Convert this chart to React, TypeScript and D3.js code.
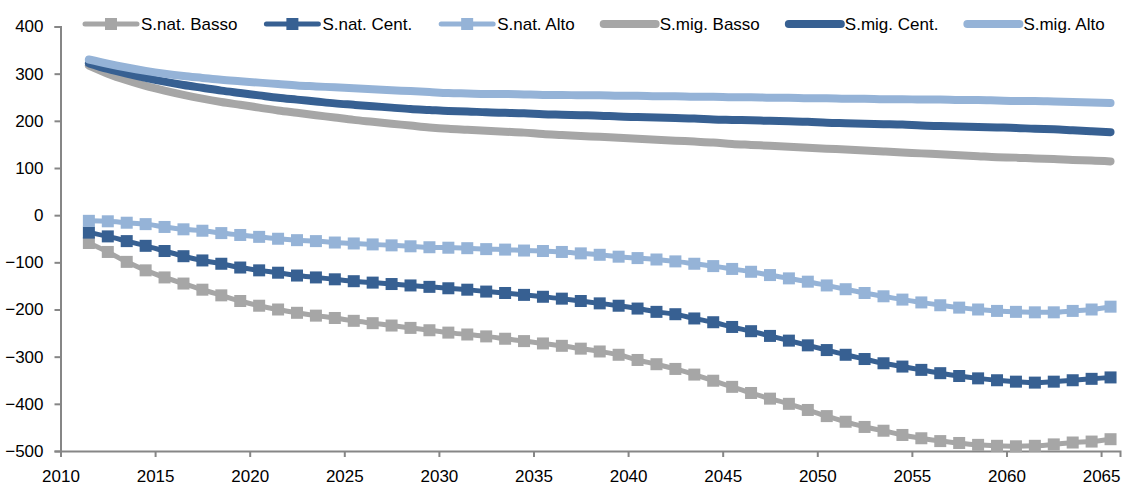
import React, { useEffect, useRef } from 'react';
import * as d3 from 'd3';

// anni 2011-2065
const years = d3.range(2011, 2066);

const natBasso = [
  -59, -78, -99, -117, -132, -145, -158, -170, -182, -192,
  -200, -207, -213, -218, -224, -229, -234, -239, -244, -249,
  -253, -257, -262, -267, -272, -277, -283, -289, -296, -307,
  -316, -326, -338, -351, -364, -377, -389, -400, -413, -426,
  -438, -449, -457, -466, -473, -479, -483, -487, -489, -490,
  -489, -486, -482, -480, -475,
];
const natCent = [
  -37, -45, -55, -65, -76, -87, -96, -103, -111, -117,
  -122, -128, -132, -136, -140, -143, -146, -149, -152, -155,
  -158, -162, -165, -169, -173, -177, -182, -187, -192, -198,
  -205, -210, -219, -227, -237, -246, -256, -266, -276, -286,
  -296, -305, -314, -321, -328, -335, -341, -346, -350, -353,
  -355, -353, -350, -347, -344,
];
const natAlto = [
  -12, -13, -16, -19, -25, -30, -33, -38, -42, -46,
  -50, -53, -55, -58, -60, -62, -64, -66, -68, -69,
  -70, -72, -73, -75, -76, -78, -81, -84, -88, -91,
  -94, -98, -103, -108, -114, -120, -127, -134, -141, -149,
  -157, -165, -172, -179, -185, -191, -196, -200, -203, -205,
  -206, -206, -203, -200, -194,
];
const migBasso = [
  317, 300, 286, 274, 264, 255, 247, 240, 234, 228,
  222, 217, 212, 207, 202, 198, 194, 190, 186, 183,
  181, 179, 177, 175, 172, 170, 168, 166, 164, 162,
  160, 158, 156, 154, 151, 149, 147, 145, 143, 141,
  139, 137, 135, 133, 131, 129, 127, 125, 123, 122,
  120, 119, 117, 116, 114,
];
const migCent = [
  322, 310, 300, 291, 283, 276, 270, 264, 259, 254,
  249, 245, 241, 237, 234, 231, 228, 225, 223, 221,
  220, 218, 217, 216, 214, 213, 212, 211, 209, 208,
  207, 206, 205, 203, 202, 201, 200, 199, 198, 196,
  195, 194, 193, 192, 190, 189, 188, 187, 186, 185,
  183, 182, 180, 178, 176,
];
const migAlto = [
  330, 321, 313, 306, 300, 295, 291, 287, 284, 281,
  278, 275, 273, 271, 269, 267, 265, 263, 261, 259,
  258, 257, 257, 256, 255, 255, 254, 254, 253, 253,
  252, 252, 251, 251, 250, 250, 249, 249, 248, 248,
  247, 247, 246, 246, 245, 245, 244, 244, 243, 242,
  242, 241, 240, 239, 238,
];

const xTicks = d3.range(2010, 2066, 5);
const yTicks = d3.range(-500, 401, 100);

const series = [
  { label: 'S.nat. Basso', values: natBasso, color: '#a6a6a6', marker: true },
  { label: 'S.nat. Cent.', values: natCent, color: '#376092', marker: true },
  { label: 'S.nat. Alto', values: natAlto, color: '#95b3d7', marker: true },
  { label: 'S.mig. Basso', values: migBasso, color: '#a6a6a6', marker: false },
  { label: 'S.mig. Cent.', values: migCent, color: '#376092', marker: false },
  { label: 'S.mig. Alto', values: migAlto, color: '#95b3d7', marker: false },
];

const FONT = '"Liberation Sans", Arial, sans-serif';

export default function App() {
  const svgRef = useRef<SVGSVGElement>(null);
  const width = 1143;
  const height = 486;

  useEffect(() => {
    if (!svgRef.current) return;
    const svg = d3.select(svgRef.current);
    svg.selectAll('*').remove();

    const x = d3.scaleLinear().domain([2010, 2066]).range([60.5, 1120]);
    const y = d3.scaleLinear().domain([-500, 400]).range([451, 26.5]);
    const axisColor = '#868686';

    // axes
    const yAxis = svg.append('g')
      .attr('transform', `translate(${x(2010)},0)`)
      .call(d3.axisLeft(y).tickValues(yTicks).tickSize(6).tickPadding(11).tickFormat(d3.format('d')));
    yAxis.select('.domain').attr('stroke', axisColor).attr('stroke-width', 2);
    yAxis.selectAll('.tick line').attr('stroke', axisColor).attr('stroke-width', 2);
    yAxis.selectAll('.tick text')
      .attr('fill', '#000')
      .attr('font-family', FONT)
      .attr('font-size', 17);

    const xAxis = svg.append('g')
      .attr('transform', `translate(0,${y(-500)})`)
      .call(d3.axisBottom(x).tickValues(xTicks).tickSize(6).tickPadding(13).tickFormat(d3.format('d')));
    xAxis.select('.domain').attr('stroke', axisColor).attr('stroke-width', 2);
    xAxis.selectAll('.tick line').attr('stroke', axisColor).attr('stroke-width', 2);
    xAxis.selectAll('.tick text')
      .attr('fill', '#000')
      .attr('font-family', FONT)
      .attr('font-size', 17);

    // punti a metà anno
    const px = (i: number) => x(years[i] + 0.5);

    series.forEach(s => {
      const line = d3.line<number>()
        .x((_, i) => px(i))
        .y(d => y(d))
        .curve(d3.curveMonotoneX);

      svg.append('path')
        .datum(s.values)
        .attr('fill', 'none')
        .attr('stroke', s.color)
        .attr('stroke-width', s.marker ? 5 : 8)
        .attr('stroke-linecap', 'round')
        .attr('stroke-linejoin', 'round')
        .attr('d', line);

      if (s.marker) {
        svg.append('g')
          .selectAll('rect')
          .data(s.values)
          .join('rect')
          .attr('x', (_, i) => px(i) - 6)
          .attr('y', d => y(d) - 6)
          .attr('width', 12)
          .attr('height', 12)
          .attr('fill', s.color);
      }
    });

    // Legend
    const legend = svg.append('g').attr('transform', 'translate(83, 24)');
    let lx = 0;
    series.forEach(s => {
      const row = legend.append('g').attr('transform', `translate(${lx},0)`);
      row.append('line')
        .attr('x1', 2)
        .attr('x2', 54)
        .attr('stroke', s.color)
        .attr('stroke-width', s.marker ? 5 : 8)
        .attr('stroke-linecap', 'round');
      if (s.marker) {
        row.append('rect')
          .attr('x', 22)
          .attr('y', -6)
          .attr('width', 12)
          .attr('height', 12)
          .attr('fill', s.color);
      }
      const t = row.append('text')
        .attr('x', 58)
        .attr('y', 6)
        .attr('fill', '#000')
        .attr('font-family', FONT)
        .attr('font-size', 17)
        .text(s.label);
      const w = (t.node() as SVGTextElement).getComputedTextLength();
      lx += 58 + w + 27;
    });
  }, []);

  return (
    <svg
      ref={svgRef}
      width={width}
      height={height}
      style={{ position: 'absolute', left: 0, top: 0, background: '#fff' }}
    />
  );
}
